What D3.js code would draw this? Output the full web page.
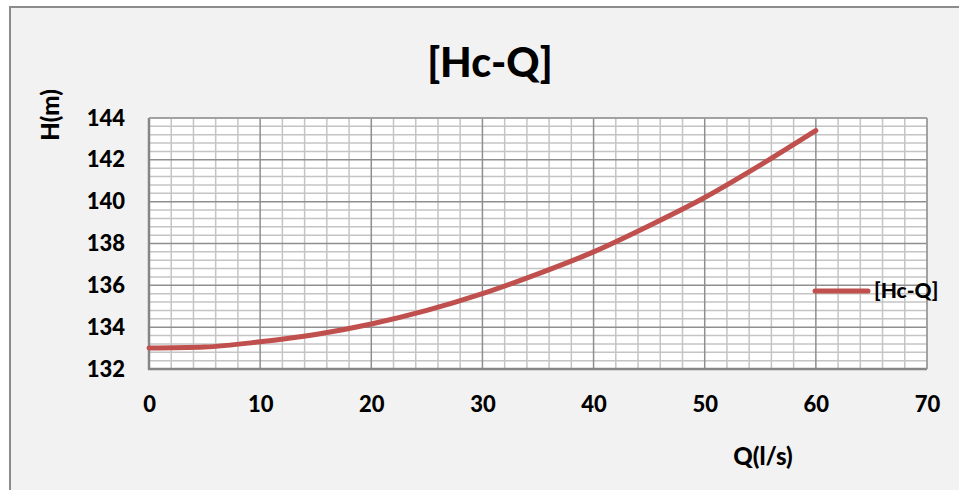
<!DOCTYPE html>
<html><head><meta charset="utf-8">
<script src="https://cdn.jsdelivr.net/npm/d3@7"></script>
<style>
html,body{margin:0;padding:0;background:#fff;}
svg{display:block;}
text{font-family:Lato,"Open Sans",sans-serif;font-weight:900;fill:#000;}
</style></head><body>
<script>
// Data
const flowQ = [0, 5, 10, 15, 20, 25, 30, 35, 40, 45, 50, 55, 60];
const headH = [133.0, 133.05, 133.3, 133.65, 134.15, 134.8, 135.6, 136.55, 137.6, 138.85, 140.2, 141.75, 143.4];
const xTicks = [0, 10, 20, 30, 40, 50, 60, 70];
const yTicks = [132, 134, 136, 138, 140, 142, 144];
const seriesName = "[Hc-Q]";
const chartTitle = "[Hc-Q]";
const xTitle = "Q(l/s)";
const yTitle = "H(m)";

const W = 959, H = 490;
const svg = d3.select("body").append("svg").attr("width", W).attr("height", H);

// chart background + border (top & left)
svg.append("rect").attr("x", 10).attr("y", 7).attr("width", W - 10).attr("height", H - 7).attr("fill", "#f2f2f2");
svg.append("line").attr("x1", 9).attr("x2", W).attr("y1", 7).attr("y2", 7).attr("stroke", "#8c8c8c").attr("stroke-width", 2);
svg.append("line").attr("x1", 10).attr("x2", 10).attr("y1", 6).attr("y2", H).attr("stroke", "#8c8c8c").attr("stroke-width", 2);

const L = 149, R = 927, T = 118, B = 369;
const x = d3.scaleLinear().domain([0, 70]).range([L, R]);
const y = d3.scaleLinear().domain([132, 144]).range([B, T]);

svg.append("rect").attr("x", L).attr("y", T).attr("width", R - L).attr("height", B - T).attr("fill", "#fff");

const g = svg.append("g");
// minor grid
const xMinor = d3.range(0, 70.001, 2).filter(v => v % 10 !== 0);
const yMinor = d3.range(0, 31).map(i => 132 + i * 0.4).filter((v, i) => i % 5 !== 0);
g.selectAll(".vmin").data(xMinor).join("line")
  .attr("x1", d => x(d)).attr("x2", d => x(d)).attr("y1", T).attr("y2", B)
  .attr("stroke", "#c4c4c4").attr("stroke-width", 1.5);
g.selectAll(".hmin").data(yMinor).join("line")
  .attr("x1", L).attr("x2", R).attr("y1", d => y(d)).attr("y2", d => y(d))
  .attr("stroke", "#c4c4c4").attr("stroke-width", 1.5);
// major grid
g.selectAll(".vmaj").data(xTicks).join("line")
  .attr("x1", d => x(d)).attr("x2", d => x(d)).attr("y1", T).attr("y2", B)
  .attr("stroke", "#8f8f8f").attr("stroke-width", 1.5);
g.selectAll(".hmaj").data(yTicks).join("line")
  .attr("x1", L).attr("x2", R).attr("y1", d => y(d)).attr("y2", d => y(d))
  .attr("stroke", "#8f8f8f").attr("stroke-width", 1.5);

// axes
const xAxis = svg.append("g").attr("transform", `translate(0,${B})`)
  .call(d3.axisBottom(x).tickValues(xTicks).tickSize(0).tickPadding(27));
const yAxis = svg.append("g").attr("transform", `translate(${L},0)`)
  .call(d3.axisLeft(y).tickValues(yTicks).tickSize(0).tickPadding(24));
[xAxis, yAxis].forEach(a => {
  a.selectAll("text").style("font-family", "Lato,sans-serif").style("font-weight", "900").style("font-size", "22px").attr("fill", "#000");
});
xAxis.select(".domain").remove();
yAxis.select(".domain").remove();
svg.append("line").attr("x1", L).attr("x2", L).attr("y1", T).attr("y2", B + 1).attr("stroke", "#868686").attr("stroke-width", 2.5);
svg.append("line").attr("x1", L - 1).attr("x2", R).attr("y1", B).attr("y2", B).attr("stroke", "#868686").attr("stroke-width", 2.5);
svg.append("line").attr("x1", R).attr("x2", R).attr("y1", T).attr("y2", B).attr("stroke", "#a0a0a0").attr("stroke-width", 1.5);
svg.append("line").attr("x1", L).attr("x2", R).attr("y1", T).attr("y2", T).attr("stroke", "#a0a0a0").attr("stroke-width", 1.5);

// curve
const pts = flowQ.map((q, i) => [q, headH[i]]);
svg.append("path").datum(pts)
  .attr("fill", "none").attr("stroke", "#c0504d").attr("stroke-width", 5).attr("stroke-linecap", "round")
  .attr("d", d3.line().x(d => x(d[0])).y(d => y(d[1])).curve(d3.curveMonotoneX));

// legend
svg.append("line").attr("x1", 815).attr("x2", 868).attr("y1", 291).attr("y2", 291)
  .attr("stroke", "#c0504d").attr("stroke-width", 5).attr("stroke-linecap", "round");
svg.append("text").attr("x", 874).attr("y", 298).style("font-size", "21px").text(seriesName);

// titles
svg.append("text").attr("x", 490).attr("y", 77).attr("text-anchor", "middle").style("font-size", "41px").text(chartTitle);
svg.append("text").attr("x", 763).attr("y", 465).attr("text-anchor", "middle").style("font-size", "24px").text(xTitle);
svg.append("text").attr("transform", "translate(59,115) rotate(-90)").attr("text-anchor", "middle").style("font-size", "24px").text(yTitle);
</script>
</body></html>
